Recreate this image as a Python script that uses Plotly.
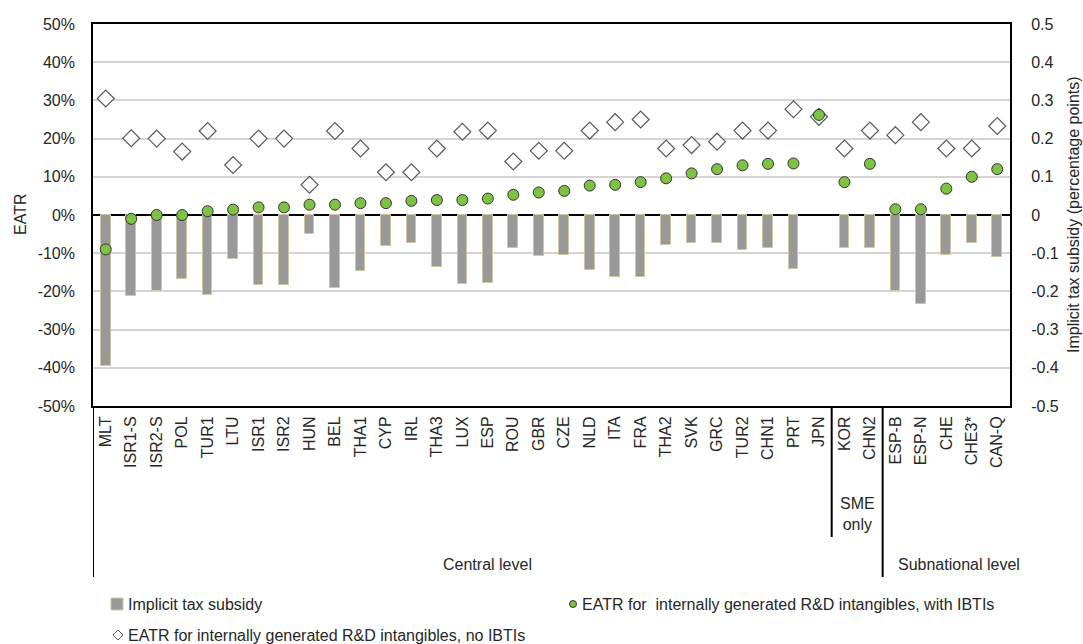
import plotly.graph_objects as go

categories = ["MLT", "ISR1-S", "ISR2-S", "POL", "TUR1", "LTU", "ISR1", "ISR2", "HUN", "BEL",
              "THA1", "CYP", "IRL", "THA3", "LUX", "ESP", "ROU", "GBR", "CZE", "NLD",
              "ITA", "FRA", "THA2", "SVK", "GRC", "TUR2", "CHN1", "PRT", "JPN", "KOR",
              "CHN2", "ESP-B", "ESP-N", "CHE", "CHE3*", "CAN-Q"]
subsidy = [-0.394, -0.212, -0.199, -0.167, -0.209, -0.116, -0.183, -0.183, -0.051, -0.192,
           -0.146, -0.081, -0.074, -0.137, -0.181, -0.177, -0.087, -0.107, -0.105, -0.144,
           -0.163, -0.163, -0.079, -0.074, -0.074, -0.092, -0.087, -0.141, None, -0.087,
           -0.087, -0.198, -0.233, -0.105, -0.074, -0.111]
eatr_with_ibti = [-0.090, -0.010, 0.000, 0.000, 0.010, 0.014, 0.020, 0.020, 0.027, 0.027,
                  0.031, 0.031, 0.037, 0.039, 0.039, 0.043, 0.053, 0.059, 0.063, 0.077,
                  0.079, 0.086, 0.096, 0.109, 0.120, 0.130, 0.134, 0.135, 0.262, 0.086,
                  0.134, 0.015, 0.015, 0.069, 0.100, 0.120]
eatr_no_ibti = [0.305, 0.201, 0.200, 0.166, 0.220, 0.131, 0.200, 0.200, 0.079, 0.220,
                0.174, 0.112, 0.112, 0.174, 0.218, 0.221, 0.140, 0.168, 0.168, 0.221,
                0.243, 0.250, 0.174, 0.183, 0.192, 0.221, 0.221, 0.277, 0.257, 0.174,
                0.221, 0.209, 0.243, 0.174, 0.174, 0.233]

left_tickvals = [-0.5, -0.4, -0.3, -0.2, -0.1, 0.0, 0.1, 0.2, 0.3, 0.4, 0.5]
left_ticktext = ["-50%", "-40%", "-30%", "-20%", "-10%", "0%", "10%", "20%", "30%", "40%", "50%"]
right_ticktext = ["-0.5", "-0.4", "-0.3", "-0.2", "-0.1", "0", "0.1", "0.2", "0.3", "0.4", "0.5"]

FONT = "Liberation Sans, Arial, sans-serif"
TXT = "#262626"
FS = 16
W, H = 1083, 644

def px(x):
    return x / W

def py(y):
    return 1 - y / H

fig = go.Figure()
fig.add_trace(go.Bar(
    x=categories, y=subsidy, width=0.38, yaxis="y",
    marker=dict(color="#999999", line=dict(color="#cfc6a4", width=1)),
    name="Implicit tax subsidy", showlegend=False))
fig.add_trace(go.Scatter(
    x=categories, y=eatr_no_ibti, yaxis="y2", mode="markers",
    marker=dict(symbol="diamond", size=13, color="white", line=dict(color="#595959", width=1.2)),
    name="EATR for internally generated R&D intangibles, no IBTIs", showlegend=False))
fig.add_trace(go.Scatter(
    x=categories, y=eatr_with_ibti, yaxis="y2", mode="markers",
    marker=dict(symbol="circle", size=11, color="#7dc242", line=dict(color="#333333", width=1)),
    name="EATR for  internally generated R&D intangibles, with IBTIs", showlegend=False))

xdom = [px(93), px(1010)]
ydom = [py(406), py(24)]

fig.update_layout(
    width=W, height=H,
    margin=dict(l=0, r=0, t=0, b=0, pad=0, autoexpand=False),
    paper_bgcolor="white", plot_bgcolor="white",
    font=dict(family=FONT, size=FS, color=TXT),
    showlegend=False,
    bargap=0,
    xaxis=dict(domain=xdom, type="category", range=[-0.5, len(categories) - 0.5],
               automargin=False,
               showline=True, mirror=True, linecolor="black", linewidth=2,
               showgrid=False, tickangle=-90, ticks="", ticklabelstandoff=2,
               tickfont=dict(family=FONT, size=FS, color=TXT)),
    yaxis=dict(domain=ydom, side="right", range=[-0.5, 0.5], automargin=False,
               tickvals=left_tickvals, ticktext=right_ticktext,
               showline=True, mirror=True, linecolor="black", linewidth=2,
               showgrid=True, gridcolor="#d4d4d4", gridwidth=2,
               zeroline=True, zerolinecolor="black", zerolinewidth=2,
               ticks="", ticklabelstandoff=16,
               tickfont=dict(family=FONT, size=FS, color=TXT)),
    yaxis2=dict(overlaying="y", side="left", range=[-0.5, 0.5], automargin=False,
                tickvals=left_tickvals, ticktext=left_ticktext,
                showgrid=False, zeroline=False, showline=False,
                ticks="", ticklabelstandoff=17,
                tickfont=dict(family=FONT, size=FS, color=TXT)),
)

shapes = []
# group separator lines (category boundaries)
for xb, ybot in [(-0.5, 577), (28.5, 537), (30.5, 577)]:
    shapes.append(dict(type="line", xref="x", yref="paper", x0=xb, x1=xb,
                       y0=py(406), y1=py(ybot), line=dict(color="black", width=2)))
# legend keys
shapes.append(dict(type="rect", xref="paper", yref="paper", xsizemode="pixel", ysizemode="pixel",
                   xanchor=px(117), yanchor=py(604), x0=-6, x1=6, y0=-6, y1=6,
                   fillcolor="#999999", line=dict(color="#cfc6a4", width=1)))
shapes.append(dict(type="circle", xref="paper", yref="paper", xsizemode="pixel", ysizemode="pixel",
                   xanchor=px(573), yanchor=py(604), x0=-3.5, x1=3.5, y0=-3.5, y1=3.5,
                   fillcolor="#7dc242", line=dict(color="#333333", width=1)))
shapes.append(dict(type="path", xref="paper", yref="paper", xsizemode="pixel", ysizemode="pixel",
                   xanchor=px(118), yanchor=py(635), path="M0,5 L5,0 L0,-5 L-5,0 Z",
                   fillcolor="white", line=dict(color="#595959", width=1)))
fig.update_layout(shapes=shapes)

ann = []
def text(x, y, s, xanchor="center", angle=0):
    ann.append(dict(x=px(x), y=py(y), xref="paper", yref="paper", text=s, showarrow=False,
                    xanchor=xanchor, yanchor="middle", textangle=angle,
                    font=dict(family=FONT, size=FS, color=TXT)))

text(20, 215, "EATR", angle=-90)
text(1073, 215, "Implicit tax subsidy (percentage points)", angle=-90)
text(487, 564, "Central level")
text(857, 514, "SME<br>only")
text(959, 564, "Subnational level")
text(126, 604, "Implicit tax subsidy", xanchor="left")
text(580, 604, "EATR for  internally generated R&amp;D intangibles, with IBTIs", xanchor="left")
text(126, 635, "EATR for internally generated R&amp;D intangibles, no IBTIs", xanchor="left")
fig.update_layout(annotations=ann)

fig.write_html("out.html", config={"displayModeBar": False},
               post_script="document.body.style.margin='0';document.body.style.overflow='hidden';")
